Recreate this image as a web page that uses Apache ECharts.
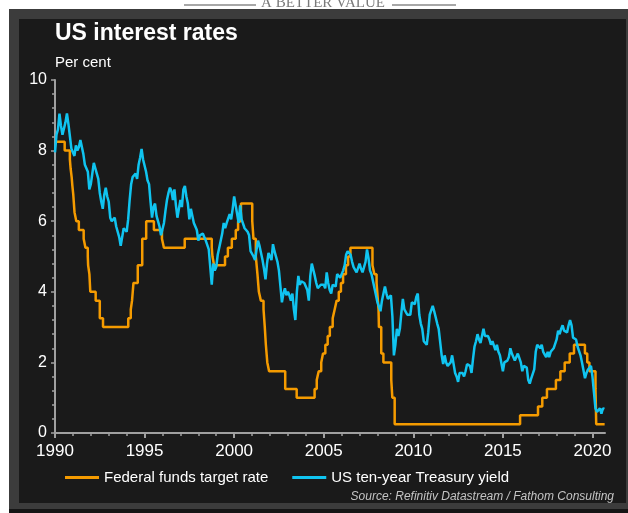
<!doctype html>
<html lang="en">
<head>
    <meta charset="UTF-8">
    <title>US interest rates</title>
    <script src="https://cdn.jsdelivr.net/npm/echarts@6/dist/echarts.min.js"></script>
    <style>
        html, body { margin: 0; padding: 0; background: #ffffff; }
        #main { width: 628px; height: 513px; }
    </style>
</head>
<body>
<div id="main"></div>
<script>
    // Federal funds target rate: date of each change (decimal year) and the new rate
    var fedDates = [
        1990.00, 1990.54, 1990.83, 1990.87, 1990.93, 1990.97, 1991.02, 1991.09, 1991.19, 1991.33,
        1991.60, 1991.70, 1991.83, 1991.85, 1991.92, 1991.97, 1992.27, 1992.50, 1992.68,
        1994.09, 1994.23, 1994.30, 1994.38, 1994.62, 1994.87, 1995.09, 1995.52, 1995.97, 1996.08,
        1997.24, 1998.75, 1998.79, 1998.88, 1999.49, 1999.65, 1999.87, 2000.09, 2000.22, 2000.38,
        2001.01, 2001.08, 2001.21, 2001.30, 2001.38, 2001.49, 2001.64, 2001.71, 2001.77, 2001.85, 2001.95,
        2002.85, 2003.49, 2004.49, 2004.61, 2004.72, 2004.86, 2004.96, 2005.09, 2005.22, 2005.34,
        2005.50, 2005.61, 2005.72, 2005.84, 2005.96, 2006.08, 2006.24, 2006.36, 2006.49,
        2007.72, 2007.83, 2007.95, 2008.06, 2008.08, 2008.21, 2008.33, 2008.77, 2008.83, 2008.96,
        2015.96, 2016.96, 2017.20, 2017.46, 2017.96, 2018.21, 2018.45, 2018.73, 2018.97,
        2019.58, 2019.71, 2019.83, 2020.17, 2020.21, 2020.68
    ];
    var fedRates = [
        8.25, 8.00, 7.75, 7.50, 7.25, 7.00, 6.75, 6.25, 6.00, 5.75,
        5.50, 5.25, 5.00, 4.75, 4.50, 4.00, 3.75, 3.25, 3.00,
        3.25, 3.50, 3.75, 4.25, 4.75, 5.50, 6.00, 5.75, 5.50, 5.25,
        5.50, 5.25, 5.00, 4.75, 5.00, 5.25, 5.50, 5.75, 6.00, 6.50,
        6.00, 5.50, 5.00, 4.50, 4.00, 3.75, 3.50, 3.00, 2.50, 2.00, 1.75,
        1.25, 1.00, 1.25, 1.50, 1.75, 2.00, 2.25, 2.50, 2.75, 3.00,
        3.25, 3.50, 3.75, 4.00, 4.25, 4.50, 4.75, 5.00, 5.25,
        4.75, 4.50, 4.25, 3.50, 3.00, 2.25, 2.00, 1.50, 1.00, 0.25,
        0.50, 0.75, 1.00, 1.25, 1.50, 1.75, 2.00, 2.25, 2.50,
        2.25, 2.00, 1.75, 1.25, 0.25, 0.25
    ];

    // US ten-year Treasury yield, one value a month from January 1990
    var yieldStart = 1990;
    var yieldRates = [
        7.95, 8.45, 8.60, 9.05, 8.70, 8.45, 8.45, 8.80, 9.05, 8.75, 8.40, 8.05,
        8.10, 7.85, 8.15, 8.00, 8.10, 8.30, 8.25, 7.90, 7.60, 7.50, 7.40, 6.90,
        7.05, 7.35, 7.65, 7.50, 7.35, 7.20, 6.80, 6.55, 6.35, 6.75, 6.95, 6.70,
        6.55, 6.10, 6.00, 5.95, 6.10, 5.85, 5.80, 5.55, 5.30, 5.30, 5.80, 5.75,
        5.70, 6.05, 6.60, 7.05, 7.25, 7.20, 7.35, 7.20, 7.60, 7.80, 8.05, 7.75,
        7.75, 7.40, 7.15, 7.05, 6.55, 6.10, 6.40, 6.50, 6.15, 6.00, 5.85, 5.60,
        5.60, 5.95, 6.30, 6.60, 6.80, 6.95, 6.85, 6.60, 6.90, 6.45, 6.10, 6.35,
        6.60, 6.40, 6.90, 7.00, 6.70, 6.50, 6.05, 6.35, 6.15, 5.95, 5.90, 5.75,
        5.45, 5.60, 5.65, 5.65, 5.60, 5.45, 5.45, 5.20, 4.70, 4.20, 4.80, 4.60,
        4.70, 5.05, 5.25, 5.20, 5.65, 5.95, 5.80, 5.95, 5.90, 6.20, 6.05, 6.35,
        6.70, 6.45, 6.20, 5.95, 6.45, 6.05, 6.00, 5.80, 5.80, 5.70, 5.60, 5.15,
        5.20, 5.00, 4.90, 5.20, 5.45, 5.30, 5.10, 4.90, 4.65, 4.35, 4.80, 5.10,
        5.05, 4.90, 5.35, 5.15, 5.10, 4.85, 4.60, 4.15, 3.70, 3.95, 4.10, 3.90,
        4.00, 3.90, 3.75, 3.95, 3.50, 3.20, 4.00, 4.45, 4.20, 4.30, 4.35, 4.25,
        4.15, 4.05, 3.75, 4.45, 4.80, 4.75, 4.45, 4.25, 4.10, 4.05, 4.20, 4.25,
        4.20, 4.10, 4.55, 4.25, 4.05, 3.95, 4.20, 4.25, 4.15, 4.50, 4.55, 4.40,
        4.40, 4.60, 4.75, 5.05, 5.15, 5.15, 5.05, 4.85, 4.70, 4.75, 4.55, 4.55,
        4.80, 4.65, 4.55, 4.70, 4.85, 5.20, 4.95, 4.60, 4.50, 4.45, 4.10, 4.05,
        3.70, 3.70, 3.45, 3.75, 3.95, 4.15, 3.95, 3.80, 3.75, 3.90, 3.30, 2.20,
        2.50, 2.95, 2.75, 2.95, 3.40, 3.80, 3.50, 3.55, 3.35, 3.35, 3.35, 3.70,
        3.75, 3.65, 3.85, 3.95, 3.35, 3.10, 2.95, 2.60, 2.55, 2.50, 2.85, 3.35,
        3.40, 3.60, 3.45, 3.50, 3.10, 2.95, 3.00, 2.20, 1.95, 2.20, 2.00, 1.90,
        1.95, 2.00, 2.20, 1.95, 1.70, 1.60, 1.45, 1.70, 1.75, 1.70, 1.60, 1.75,
        1.95, 2.00, 1.90, 1.70, 2.10, 2.45, 2.60, 2.80, 2.65, 2.55, 2.75, 2.95,
        2.75, 2.70, 2.75, 2.65, 2.50, 2.60, 2.55, 2.35, 2.50, 2.30, 2.20, 2.20,
        1.75, 2.00, 1.95, 2.05, 2.15, 2.40, 2.25, 2.20, 2.05, 2.15, 2.25, 2.25,
        2.00, 1.75, 1.90, 1.85, 1.85, 1.50, 1.40, 1.55, 1.60, 1.80, 2.30, 2.50,
        2.45, 2.40, 2.50, 2.30, 2.25, 2.15, 2.30, 2.15, 2.30, 2.35, 2.40, 2.40,
        2.65, 2.90, 2.80, 2.95, 3.05, 2.90, 2.95, 2.85, 3.05, 3.20, 3.05, 2.70,
        2.70, 2.65, 2.45, 2.50, 2.20, 2.00, 2.05, 1.55, 1.70, 1.80, 1.80, 1.90,
        1.60, 1.15, 0.70, 0.60, 0.65, 0.70, 0.55, 0.70, 0.68
    ];

    var labelYears = [1990, 1995, 2000, 2005, 2010, 2015, 2020];
    var tickYears = [
        1990, 1991, 1992, 1993, 1994, 1995, 1996, 1997, 1998, 1999, 2000,
        2001, 2002, 2003, 2004, 2005, 2006, 2007, 2008, 2009, 2010,
        2011, 2012, 2013, 2014, 2015, 2016, 2017, 2018, 2019, 2020
    ];

    var orange = '#f59b00';
    var blue = '#10c4f0';
    var axisGrey = '#a0a0a0';
    var font = "'Liberation Sans', Arial, sans-serif";

    var fedData = [];
    for (var i = 0; i < fedDates.length; i++) {
        fedData.push([fedDates[i], fedRates[i]]);
    }
    var yieldData = [];
    for (var j = 0; j < yieldRates.length; j++) {
        yieldData.push([yieldStart + j / 12, yieldRates[j]]);
    }

    var myChart = echarts.init(document.getElementById('main'));
    var option = {
        backgroundColor: 'transparent',
        animation: false,
        textStyle: { fontFamily: font },
        graphic: [
            // frame
            { type: 'rect', z: -20, shape: { x: 9, y: 9, width: 619, height: 500 }, style: { fill: '#3c3c3c' } },
            { type: 'rect', z: -20, shape: { x: 9, y: 509, width: 619, height: 4 }, style: { fill: '#151515' } },
            { type: 'rect', z: -19, shape: { x: 19, y: 19, width: 607, height: 484 }, style: { fill: '#1a1a1a' } },
            // banner above the frame
            { type: 'line', shape: { x1: 184, y1: 5, x2: 256, y2: 5 }, style: { stroke: '#8a8a8a', lineWidth: 1.5 } },
            { type: 'line', shape: { x1: 392, y1: 5, x2: 456, y2: 5 }, style: { stroke: '#8a8a8a', lineWidth: 1.5 } },
            {
                type: 'text', x: 323, y: 11,
                style: {
                    text: 'A BETTER VALUE', fill: '#7a7a7a', align: 'center', verticalAlign: 'bottom',
                    font: '15px "Liberation Serif", "DejaVu Serif", serif'
                }
            },
            {
                type: 'text', x: 55, y: 22,
                style: { text: 'US interest rates', fill: '#ffffff', font: 'bold 23px ' + font, verticalAlign: 'top' }
            },
            {
                type: 'text', x: 55, y: 55,
                style: { text: 'Per cent', fill: '#ffffff', font: '15px ' + font, verticalAlign: 'top' }
            },
            {
                type: 'text', x: 614, y: 497,
                style: {
                    text: 'Source: Refinitiv Datastream / Fathom Consulting', fill: '#c4c4c4',
                    font: 'italic 12px ' + font, align: 'right', verticalAlign: 'middle'
                }
            }
        ],
        grid: { left: 55, right: 23, top: 80, bottom: 80 },
        legend: {
            left: 60, top: 465,
            icon: 'rect', itemWidth: 34, itemHeight: 3, itemGap: 24,
            textStyle: { color: '#ffffff', fontSize: 15, fontFamily: font },
            data: ['Federal funds target rate', 'US ten-year Treasury yield']
        },
        xAxis: [{
            type: 'value', min: 1990, max: 2020.7,
            axisLine: { lineStyle: { color: axisGrey, width: 2 } },
            axisTick: { customValues: labelYears, length: 5, lineStyle: { color: axisGrey, width: 2 } },
            axisLabel: {
                customValues: labelYears, color: '#ffffff', fontSize: 17, margin: 10,
                formatter: function (v) { return String(v); }
            },
            splitLine: { show: false }
        }, {
            type: 'value', min: 1990, max: 2020.7, position: 'bottom',
            axisLine: { show: false },
            axisTick: { customValues: tickYears, length: 3, lineStyle: { color: axisGrey, width: 1.5 } },
            axisLabel: { show: false },
            splitLine: { show: false }
        }],
        yAxis: {
            type: 'value', min: 0, max: 10, interval: 2,
            axisLine: { show: true, lineStyle: { color: axisGrey, width: 2 } },
            axisTick: { show: true, length: 4, lineStyle: { color: axisGrey, width: 1.5 } },
            minorTick: { show: true, splitNumber: 5, length: 3, lineStyle: { color: axisGrey, width: 1.5 } },
            axisLabel: { color: '#ffffff', fontSize: 16, margin: 8 },
            splitLine: { show: false }
        },
        series: [{
            name: 'Federal funds target rate',
            type: 'line',
            step: 'end',
            showSymbol: false,
            symbol: 'none',
            color: orange,
            lineStyle: { color: orange, width: 2.5 },
            data: fedData
        }, {
            name: 'US ten-year Treasury yield',
            type: 'line',
            showSymbol: false,
            symbol: 'none',
            color: blue,
            lineStyle: { color: blue, width: 2.5 },
            data: yieldData
        }]
    };
    myChart.setOption(option);
</script>
</body>
</html>
